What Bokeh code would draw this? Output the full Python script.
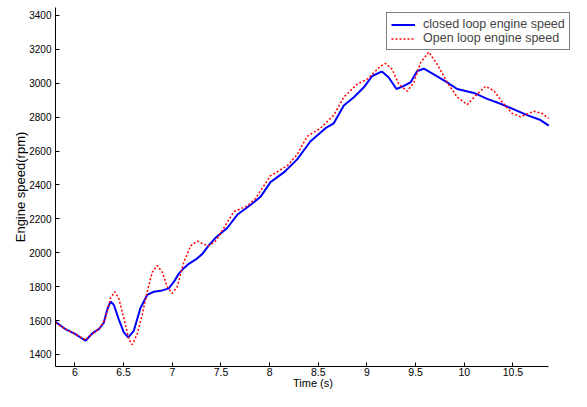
from bokeh.plotting import figure
from bokeh.models import FixedTicker, Legend, LegendItem, Range1d
from bokeh.embed import file_html
from bokeh.resources import INLINE

# Closed loop engine speed (blue)
closed_t = [5.80, 5.903, 6.005, 6.108, 6.177, 6.245, 6.296, 6.331, 6.365, 6.399,
            6.450, 6.502, 6.547, 6.604, 6.673, 6.742, 6.810, 6.896, 6.964, 7.015,
            7.067, 7.118, 7.170, 7.238, 7.307, 7.375, 7.444, 7.564, 7.667, 7.803,
            7.906, 8.009, 8.146, 8.283, 8.420, 8.574, 8.659, 8.762, 8.865, 8.968,
            9.054, 9.139, 9.157, 9.224, 9.303, 9.379, 9.447, 9.516, 9.584, 9.687,
            9.824, 9.927, 10.098, 10.235, 10.372, 10.509, 10.646, 10.783, 10.868]
closed_v = [1593, 1549, 1520, 1481, 1524, 1549, 1587, 1664, 1712, 1693,
            1607, 1530, 1501, 1539, 1674, 1751, 1770, 1778, 1790, 1828,
            1877, 1909, 1935, 1959, 1992, 2044, 2088, 2146, 2224, 2282,
            2330, 2417, 2474, 2551, 2658, 2735, 2764, 2869, 2918, 2976,
            3043, 3066, 3068, 3034, 2966, 2985, 3005, 3072, 3086, 3053,
            3005, 2966, 2943, 2908, 2879, 2846, 2812, 2783, 2750]

# Open loop engine speed (red dotted)
open_t = [5.80, 5.903, 6.005, 6.108, 6.177, 6.262, 6.314, 6.365, 6.409, 6.450,
          6.502, 6.553, 6.588, 6.639, 6.691, 6.742, 6.794, 6.845, 6.896, 6.948,
          6.999, 7.050, 7.118, 7.187, 7.256, 7.324, 7.375, 7.444, 7.478, 7.632,
          7.770, 7.855, 8.009, 8.181, 8.283, 8.386, 8.523, 8.659, 8.762, 8.900,
          9.002, 9.139, 9.191, 9.259, 9.327, 9.413, 9.481, 9.550, 9.635, 9.722,
          9.824, 9.927, 10.030, 10.133, 10.218, 10.304, 10.390, 10.492, 10.578,
          10.715, 10.801, 10.868]
open_v = [1587, 1549, 1520, 1487, 1520, 1559, 1616, 1732, 1770, 1732,
          1616, 1491, 1458, 1520, 1635, 1770, 1886, 1925, 1886, 1799,
          1761, 1799, 1944, 2040, 2069, 2050, 2040, 2069, 2098, 2243,
          2276, 2320, 2455, 2513, 2580, 2687, 2735, 2812, 2918, 2995,
          3024, 3101, 3117, 3082, 2995, 2953, 3005, 3121, 3184, 3111,
          3005, 2918, 2874, 2937, 2982, 2956, 2889, 2822, 2802,
          2835, 2822, 2792]

x_ticks = [6, 6.5, 7, 7.5, 8, 8.5, 9, 9.5, 10, 10.5]
x_tick_labels = ["6", "6.5", "7", "7.5", "8", "8.5", "9", "9.5", "10", "10.5"]
y_ticks = [1400, 1600, 1800, 2000, 2200, 2400, 2600, 2800, 3000, 3200, 3400]
x_axis_bounds = (5.8, 10.867)

FONT = "Liberation Sans"

p = figure(width=571, height=391, output_backend="svg", toolbar_location=None,
           x_range=Range1d(5.8, 11.091), y_range=Range1d(1329, 3447),
           min_border_left=55, min_border_right=1, min_border_top=7,
           min_border_bottom=0)
p.outline_line_color = None
p.grid.visible = False
p.background_fill_color = "white"
p.border_fill_color = "white"

r_closed = p.line(closed_t, closed_v, line_color="#0000ff", line_width=2)
r_open = p.line(open_t, open_v, line_color="#ff0000", line_width=1.5, line_dash="2 2")

for ax in (p.xaxis[0], p.yaxis[0]):
    ax.axis_line_color = "black"
    ax.major_tick_line_color = "black"
    ax.major_tick_in = 4
    ax.major_tick_out = 0
    ax.minor_tick_line_color = None
    ax.major_label_text_font = FONT
    ax.major_label_text_color = "black"
    ax.axis_label_text_font = FONT
    ax.axis_label_text_font_style = "normal"
    ax.axis_label_text_color = "black"

p.xaxis.bounds = x_axis_bounds
p.xaxis.ticker = FixedTicker(ticks=x_ticks)
p.xaxis.major_label_overrides = {t: l for t, l in zip(x_ticks, x_tick_labels)}
p.xaxis.major_label_text_font_size = "10.5px"
p.xaxis.major_label_standoff = 1
p.xaxis.axis_label = "Time (s)"
p.xaxis.axis_label_text_font_size = "11px"
p.xaxis.axis_label_standoff = -2

p.yaxis.ticker = FixedTicker(ticks=y_ticks)
p.yaxis.major_label_text_font_size = "10px"
p.yaxis.major_label_standoff = 4
p.yaxis.axis_label = "Engine speed(rpm)"
p.yaxis.axis_label_text_font_size = "13px"
p.yaxis.axis_label_standoff = -2

legend = Legend(items=[LegendItem(label="closed loop engine speed", renderers=[r_closed]),
                       LegendItem(label="Open loop engine speed", renderers=[r_open])],
                location=(331, 316))
legend.border_line_color = "black"
legend.border_line_width = 1
legend.background_fill_alpha = 1
legend.label_text_font = FONT
legend.label_text_font_size = "12.5px"
legend.label_height = 13
legend.glyph_height = 13
legend.glyph_width = 24
legend.label_standoff = 8
legend.padding = 4
legend.spacing = 0
legend.margin = 0
p.add_layout(legend, "center")

open("out.html", "w").write(file_html(p, INLINE))
